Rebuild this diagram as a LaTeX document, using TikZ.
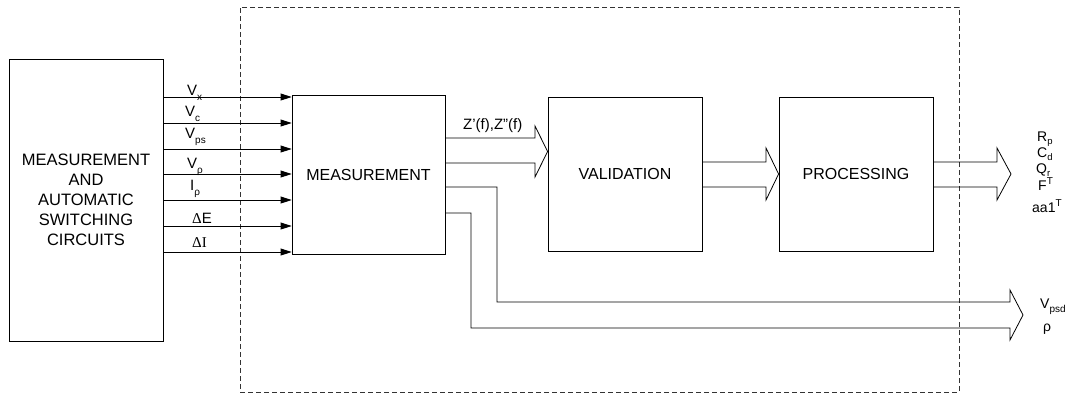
\documentclass[tikz,border=0pt]{standalone}
\usepackage{fontspec}
\setmainfont{Liberation Sans}
\newfontfamily\serifff{Liberation Serif}
\usetikzlibrary{arrows.meta,calc}
\newcommand\mysub[1]{\raisebox{-0.35em}{\fontsize{10}{10}\selectfont #1}}
\newcommand\myrsub[1]{\raisebox{-0.22em}{\fontsize{9.5}{9.5}\selectfont #1}}
\newcommand\mysup[1]{\raisebox{0.42em}{\fontsize{10}{10}\selectfont #1}}
\begin{document}
\begin{tikzpicture}[x=1pt,y=-1pt,
  box/.style={draw, line width=0.8pt, inner sep=0pt, align=center, font=\fontsize{16}{20}\selectfont},
  frame/.style={draw=black!80, line width=0.8pt, dash pattern=on 5pt off 3pt, inner sep=0pt},
  inarrow/.style={-{Triangle[length=11pt,width=7pt]}, line width=0.8pt},
  hollow/.style={draw, line width=0.8pt, line join=miter},
  lbl/.style={inner sep=0pt, anchor=base west, font=\fontsize{15}{15}\selectfont},
  rlbl/.style={inner sep=0pt, anchor=base west, font=\fontsize{14}{14}\selectfont}]
\useasboundingbox (0,0) rectangle (1070,394);

\node[frame, minimum width=719pt, minimum height=385pt] (fr) at (599.5,199.5) {};

\node[box, minimum width=154pt, minimum height=282pt, font=\fontsize{16.5}{20}\selectfont] (lb) at (86,200)
  {MEASUREMENT\\AND\\AUTOMATIC\\SWITCHING\\CIRCUITS};
\node[box, minimum width=153pt, minimum height=159pt] (meas) at (368.5,174.5) {MEASUREMENT};
\node[box, minimum width=154pt, minimum height=154pt] (val) at (625,174) {VALIDATION};
\node[box, minimum width=154pt, minimum height=154pt] (proc) at (856,174) {PROCESSING};

% input arrows
\foreach \yy in {97,123,149,174,200,226,252}
  \draw[inarrow] (lb.east |- 0,\yy) -- (meas.west |- 0,\yy);

% input labels
\node[lbl] (lvx) at (187,95) {V\mysub{x}};
\node[lbl] (lvc) at (185,116) {V\mysub{c}};
\node[lbl] (lvps) at (185,138) {V\mysub{ps}};
\node[lbl] (lvr) at (187,168) {V\mysub{ρ}};
\node[lbl] (lir) at (190,190) {I\mysub{ρ}};
\node[lbl] (lde) at (192,223) {{\serifff Δ}E};
\node[lbl] (ldi) at (192,247) {{\serifff ΔI}};

% hollow arrows
\coordinate (t3) at (1011,174);
\coordinate (t4) at (1023,315);
\draw[hollow] (meas.east |- 0,138) -- (535,138) -- (535,126) -- (val.west |- 0,151.5)
  -- (535,177) -- (535,163) -- (meas.east |- 0,163);
\draw[hollow] (val.east |- 0,162) -- (766,162) -- (766,148) -- (proc.west |- 0,174)
  -- (766,200) -- (766,187) -- (val.east |- 0,187);
\draw[hollow] (proc.east |- 0,162) -- (997,162) -- (997,148) -- (t3)
  -- (997,200) -- (997,187) -- (proc.east |- 0,187);
\draw[hollow] (meas.east |- 0,187) -- (497,187) -- (497,302) -- (1010,302) -- (1010,290)
  -- (t4) -- (1010,340) -- (1010,328) -- (471,328) -- (471,213) -- (meas.east |- 0,213);

\node[lbl] (lz) at (463,129) {Z'(f),Z''(f)};

% outputs
\node[rlbl] (lrp) at (1037,141) {R\myrsub{p}};
\node[rlbl] (lcd) at (1037,157) {C\myrsub{d}};
\node[rlbl] (lqr) at (1036,173) {Q\myrsub{r}};
\node[rlbl] (lft) at (1038,190.5) {F\mysup{T}};
\node[rlbl] (laa) at (1032,212) {aa1\mysup{T}};
\node[rlbl] (lvpsd) at (1040,308) {V\mysub{psd}};
\node[rlbl] (lrho) at (1043,331) {ρ};
\end{tikzpicture}
\end{document}
